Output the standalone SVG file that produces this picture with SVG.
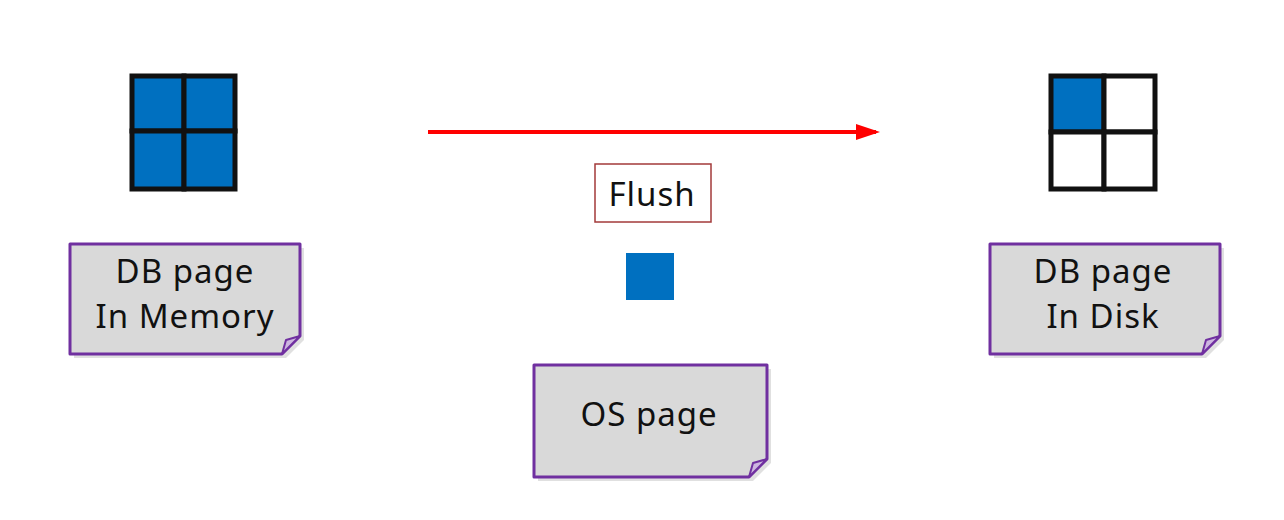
<svg xmlns="http://www.w3.org/2000/svg" width="1284" height="520" viewBox="0 0 1284 520">
<style>
.note{fill:#D9D9D9;stroke:#7030A0;stroke-width:3;stroke-linejoin:round}
.fold{fill:#CDB6E0;stroke:#7030A0;stroke-width:2;stroke-linejoin:round}
.shadow{fill:#000;opacity:0.12}
.lbl{font-family:"Noto Sans","Open Sans","Liberation Sans",sans-serif;font-size:33px;letter-spacing:1px;fill:#111;text-anchor:middle}
.cell{stroke:#111;stroke-width:5}
.blue{fill:#0070C0}
.white{fill:#fff}
</style>
<defs>
<marker id="ah" markerWidth="6" markerHeight="4" refX="5" refY="2" orient="auto" markerUnits="strokeWidth">
<path d="M0,0 L6,2 L0,4 Z" fill="#FF0000"/>
</marker>
</defs>
<rect width="1284" height="520" fill="#fff"/>

<g id="connectors">
<line x1="428" y1="132" x2="876" y2="132" stroke="#FF0000" stroke-width="4" marker-end="url(#ah)"/>
</g>

<g id="grid-memory">
<rect x="132" y="76" width="52" height="55" class="blue cell"/>
<rect x="184" y="76" width="51" height="55" class="blue cell"/>
<rect x="132" y="131" width="52" height="58" class="blue cell"/>
<rect x="184" y="131" width="51" height="58" class="blue cell"/>
</g>

<g id="grid-disk">
<rect x="1051" y="76" width="53" height="56" class="blue cell"/>
<rect x="1104" y="76" width="51" height="56" class="white cell"/>
<rect x="1051" y="132" width="53" height="57" class="white cell"/>
<rect x="1104" y="132" width="51" height="57" class="white cell"/>
</g>

<g id="note-memory">
<path class="shadow" d="M74,248 H304 V340 L286,358 H74 Z"/>
<path class="note" d="M70,244 H300 V336 L282,354 H70 Z"/>
<path class="fold" d="M282,354 L286,340 L300,336 Z"/>
<text class="lbl" x="185" y="283">DB page</text>
<text class="lbl" x="185" y="328">In Memory</text>
</g>

<g id="note-disk">
<path class="shadow" d="M994,248 H1224 V340 L1206,358 H994 Z"/>
<path class="note" d="M990,244 H1220 V336 L1202,354 H990 Z"/>
<path class="fold" d="M1202,354 L1206,340 L1220,336 Z"/>
<text class="lbl" x="1103" y="283">DB page</text>
<text class="lbl" x="1103" y="328">In Disk</text>
</g>

<g id="flush">
<rect x="595" y="164" width="116" height="58" fill="#fff" stroke="#A33A3A" stroke-width="1.5"/>
<text class="lbl" x="652" y="206">Flush</text>
</g>

<g id="os-square">
<rect x="626" y="253" width="48" height="47" class="blue"/>
</g>

<g id="note-os">
<path class="shadow" d="M538,369 H771 V463 L753,481 H538 Z"/>
<path class="note" d="M534,365 H767 V459 L749,477 H534 Z"/>
<path class="fold" d="M749,477 L753,463 L767,459 Z"/>
<text class="lbl" x="649" y="426">OS page</text>
</g>
</svg>
